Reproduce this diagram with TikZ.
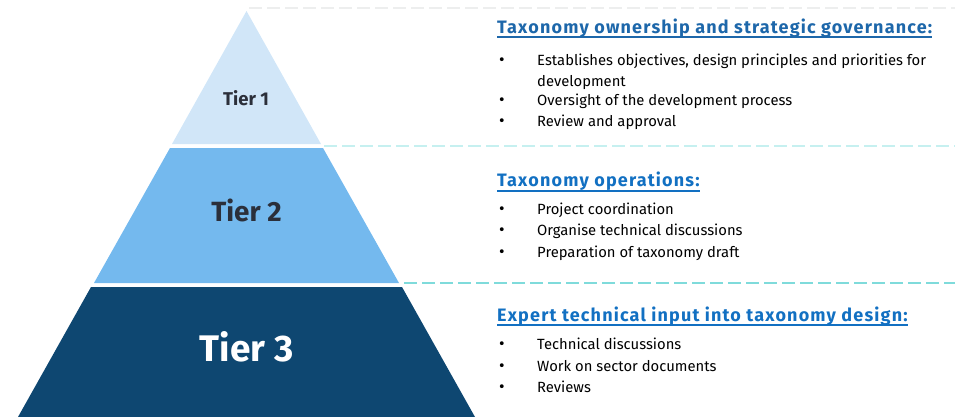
\documentclass[tikz,border=0pt]{standalone}
\usepackage{fontspec}
\setmainfont{Fira Sans}
\newfontfamily\headfont[LetterSpace=6.5]{Fira Sans}
\usetikzlibrary{positioning}

\definecolor{tierone}{HTML}{D1E6F8}
\definecolor{tiertwo}{HTML}{74B9EE}
\definecolor{tierthree}{HTML}{0E4771}
\definecolor{tiertext}{HTML}{2B2F3A}
\definecolor{headblue}{HTML}{1270C2}
\definecolor{headdark}{HTML}{1D67AA}
\definecolor{dashgrey}{HTML}{EDEEEE}
\definecolor{dashlight}{HTML}{C6F0F0}
\definecolor{dashcyan}{HTML}{7FDBDB}

\tikzset{
  guide/.style={line width=2pt, dash pattern=on 13pt off 5pt},
  tierlabel/.style={anchor=base, inner sep=0pt, text=tiertext},
  heading/.style={anchor=base west, inner sep=0pt, font=\headfont\bfseries\fontsize{18}{20}\selectfont, text=headblue},
  underl/.style={headblue, line width=2pt},
  bullet/.style={anchor=base west, inner sep=0pt, font=\fontsize{17}{21}\selectfont},
  item/.style={anchor=base west, inner sep=0pt, align=left, font=\fontsize{14.8}{21}\selectfont}
}

\begin{document}
\begin{tikzpicture}[x=1pt, y=-1pt]
  \useasboundingbox (0,0) rectangle (955,417);

  % Piramide
  \fill[tierone] (246.5,11) -- (321,144) -- (172,144) -- cycle;
  \fill[tiertwo] (170,148) -- (323,148) -- (399,283) -- (94,283) -- cycle;
  \fill[tierthree] (91,287) -- (402,287) -- (475,417) -- (18,417) -- cycle;

  \node[tierlabel, font=\bfseries\fontsize{18.5}{20}\selectfont] (t1) at (246,106) {Tier 1};
  \node[tierlabel, font=\bfseries\fontsize{27.8}{30}\selectfont] (t2) at (246.5,221.5) {Tier 2};
  \node[tierlabel, text=white, font=\bfseries\fontsize{37}{40}\selectfont] (t3) at (246.5,361.5) {Tier 3};

  % Lineas discontinuas
  \draw[guide, dashgrey] (249,8.5) -- (955,8.5);
  \draw[guide, dashlight] (324,145.5) -- (955,145.5);
  \draw[guide, dashcyan] (404,283) -- (955,283);

  % Tier 1
  \node[heading, text=headdark] (h1) at (497,33.3) {Taxonomy ownership and strategic governance:};
  \draw[underl, headdark] ([yshift=-4pt]h1.base west) -- ([yshift=-4pt]h1.base east);
  \node[bullet] (b11) at (499,65.5) {•};
  \node[item] (i11) at (537,86.5) {Establishes objectives, design principles and priorities for\\development};
  \node[bullet] (b12) at (499,106) {•};
  \node[item] (i12) at (537,106) {Oversight of the development process};
  \node[bullet] (b13) at (499,127) {•};
  \node[item] (i13) at (537,127) {Review and approval};

  % Tier 2
  \node[heading] (h2) at (497,186.5) {Taxonomy operations:};
  \draw[underl] ([yshift=-4pt]h2.base west) -- ([yshift=-4pt]h2.base east);
  \node[bullet] (b21) at (499,214) {•};
  \node[item] (i21) at (537,214) {Project coordination};
  \node[bullet] (b22) at (499,235) {•};
  \node[item] (i22) at (537,235) {Organise technical discussions};
  \node[bullet] (b23) at (499,257) {•};
  \node[item] (i23) at (537,257) {Preparation of taxonomy draft};

  % Tier 3
  \node[heading] (h3) at (497,321) {Expert technical input into taxonomy design:};
  \draw[underl] ([yshift=-4pt]h3.base west) -- ([yshift=-4pt]h3.base east);
  \node[bullet] (b31) at (499,349.5) {•};
  \node[item] (i31) at (537,349.5) {Technical discussions};
  \node[bullet] (b32) at (499,371) {•};
  \node[item] (i32) at (537,371) {Work on sector documents};
  \node[bullet] (b33) at (499,392.5) {•};
  \node[item] (i33) at (537,392.5) {Reviews};
\end{tikzpicture}
\end{document}
